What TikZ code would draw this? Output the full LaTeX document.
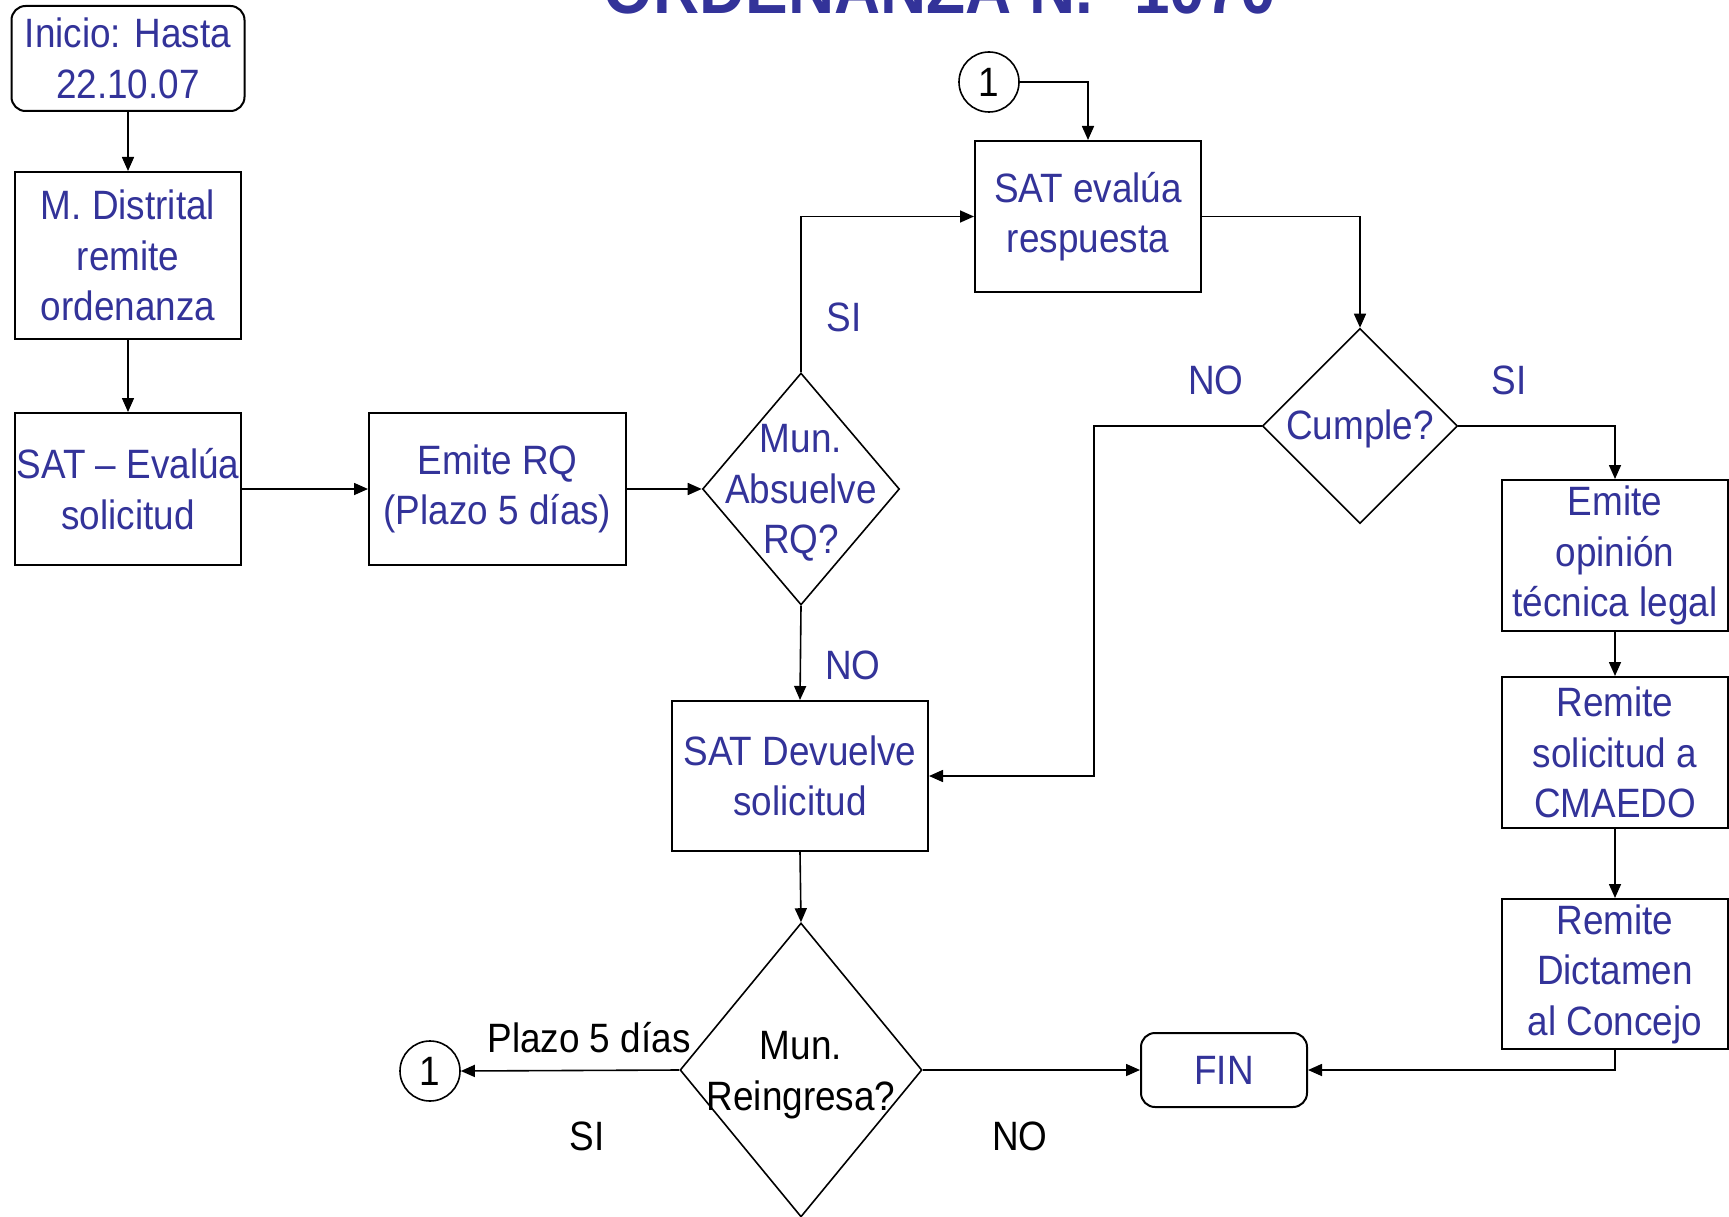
\documentclass[tikz,border=0pt]{standalone}
\usepackage{fontspec}
\setmainfont{Liberation Sans}[FakeStretch=0.9]
\usepackage{tikz}
\usepackage{xcolor}
\usetikzlibrary{positioning}
\usetikzlibrary{arrows.meta}
\usetikzlibrary{shapes.geometric,calc}
\definecolor{satblue}{RGB}{51,51,153}

\begin{document}
\begin{tikzpicture}[x=1pt,y=-1pt,
    txt/.style={font=\fontsize{41}{50.5}\selectfont},
    box/.style={draw, line width=2pt, inner sep=0pt, text=satblue, align=center, txt},
    rbox/.style={box, rounded corners=14pt},
    decision/.style={draw, diamond, line width=1.6pt, inner sep=0pt},
    conn/.style={circle, draw, line width=1.6pt, minimum size=60pt, inner sep=0pt, txt},
    lbl/.style={txt, text=satblue},
    flow/.style={-{Triangle[length=14pt,width=12pt]}, line width=1.6pt}]

\useasboundingbox (0,0) rectangle (1729,1217);

% Title (cut at the top)
\node[font=\fontsize{71}{80}\selectfont\bfseries, text=satblue, anchor=base] (titulo) at (940,14) {ORDENANZA N.º 1070};

% Left column
\node[rbox, minimum width=233pt, minimum height=105pt] (inicio) at (128,58.5) {Inicio: Hasta\\22.10.07};
\node[box, minimum width=226pt, minimum height=167pt] (distrital) at (128,255.5) {M. Distrital\\remite\\ordenanza};
\node[box, minimum width=226pt, minimum height=152pt] (evalua) at (128,489) {SAT -- Evalúa\\solicitud};

% Middle
\node[box, minimum width=257pt, minimum height=152pt] (emiterq) at (497.5,489) {Emite RQ\\(Plazo 5 días)};
\node[decision, minimum width=197pt, minimum height=232pt] (absuelve) at (801,489) {};
\node[lbl, align=center] (absuelvetxt) at (801,493) {Mun.\\Absuelve\\RQ?};
\node[box, minimum width=256pt, minimum height=150pt] (devuelve) at (800,776) {SAT Devuelve\\solicitud};
\node[decision, minimum width=242pt, minimum height=294pt] (reingresa) at (801,1070) {};
\node[txt, align=center] (reingresatxt) at (801,1075) {Mun.\\Reingresa?};
\node[conn] (circbot) at (430,1071) {1};

% Upper right
\node[conn] (circtop) at (989,82) {1};
\node[box, minimum width=226pt, minimum height=151pt] (sateval) at (1088,216.5) {SAT evalúa\\respuesta};
\node[decision, minimum width=195pt, minimum height=195pt] (cumple) at (1360,426) {};
\node[lbl] (cumpletxt) at (1360,429) {Cumple?};

% Right column
\node[box, minimum width=226pt, minimum height=151pt] (opinion) at (1615,555.5) {Emite\\opinión\\técnica legal};
\node[box, minimum width=226pt, minimum height=151pt] (cmaedo) at (1615,752.5) {Remite\\solicitud a\\CMAEDO};
\node[box, minimum width=226pt, minimum height=150pt] (dictamen) at (1615,974) {Remite\\Dictamen\\al Concejo};
\node[rbox, minimum width=166pt, minimum height=74pt] (fin) at (1224,1070) {FIN};

% Connectors
\draw[flow] (inicio.south) -- (distrital.north);
\draw[flow] (distrital.south) -- (evalua.north);
\draw[flow] (evalua.east) -- (emiterq.west);
\draw[flow] (emiterq.east) -- (absuelve.west);
\draw[flow] (absuelve.north) |- (sateval.west);
\draw[flow] (absuelve.south) -- (devuelve.north);
\draw[flow] (circtop.east) -| (sateval.north);
\draw[flow] (sateval.east) -| (cumple.north);
\draw[flow] (cumple.west) -- ++(-168,0) |- (devuelve.east);
\draw[flow] (cumple.east) -| (opinion.north);
\draw[flow] (opinion.south) -- (cmaedo.north);
\draw[flow] (cmaedo.south) -- (dictamen.north);
\draw[flow] (dictamen.south) |- (fin.east);
\draw[flow] (devuelve.south) -- (reingresa.north);
\draw[flow] (reingresa.west) -- (circbot.east);
\draw[flow] (reingresa.east) -- (fin.west);

% Labels
\node[lbl] (siabs) at (844,317) {SI};
\node[lbl] (noabs) at (853,665) {NO};
\node[lbl] (nocum) at (1216,380) {NO};
\node[lbl] (sicum) at (1509,380) {SI};
\node[txt] (plazo) at (589,1038) {Plazo 5 días};
\node[txt] (sirein) at (587,1136) {SI};
\node[txt] (norein) at (1020,1136) {NO};
\end{tikzpicture}
\end{document}
